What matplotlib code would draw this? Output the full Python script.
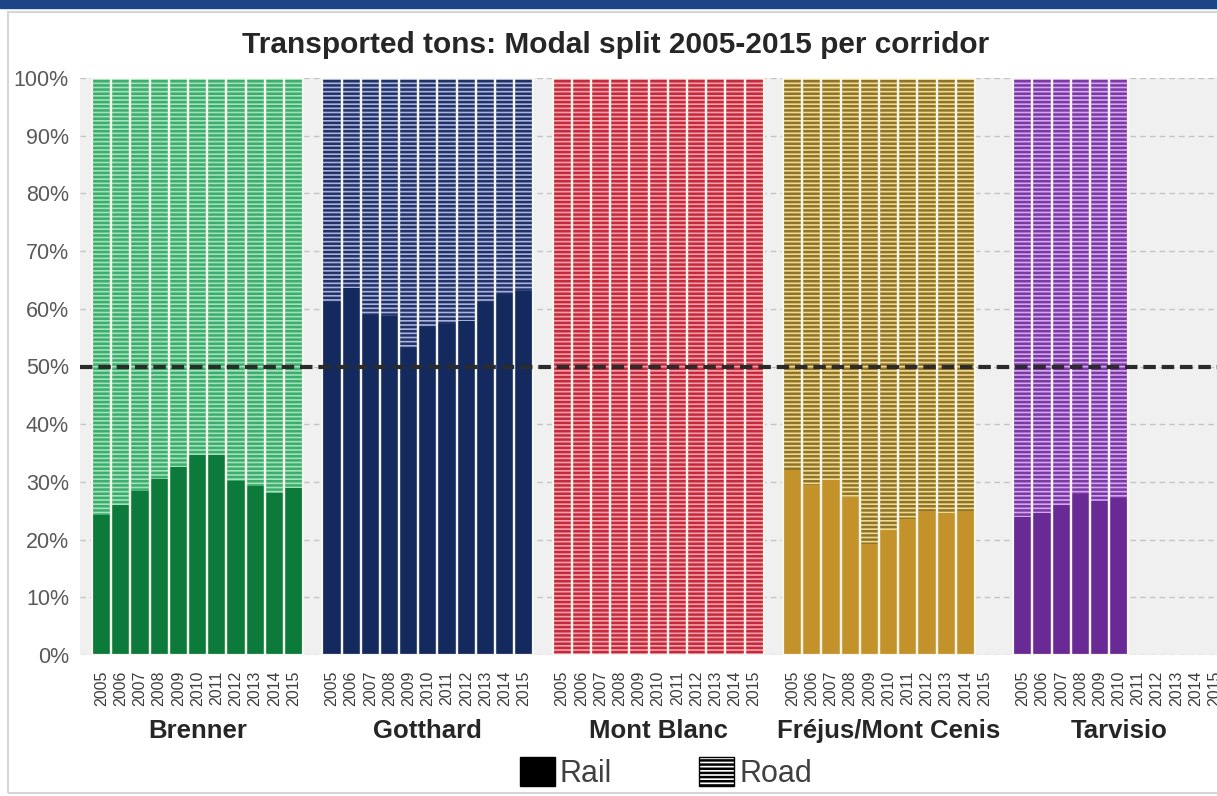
import numpy as np
import matplotlib
matplotlib.use('Agg')
import matplotlib.pyplot as plt
import matplotlib.transforms as mtransforms
from matplotlib.patches import Patch, Rectangle

# Rail share (%) of transported tons per corridor, 2005-2015 (None = no data)
years = list(range(2005, 2016))
corridors = ['Brenner', 'Gotthard', 'Mont Blanc', 'Fréjus/Mont Cenis', 'Tarvisio']

brenner_rail = [24.3, 26.0, 28.5, 30.5, 32.6, 34.7, 34.6, 30.2, 29.3, 28.1, 28.9]
gotthard_rail = [61.2, 63.6, 58.9, 58.8, 53.2, 56.9, 57.4, 57.8, 61.2, 62.6, 63.0]
mont_blanc_rail = [0, 0, 0, 0, 0, 0, 0, 0, 0, 0, 0]
frejus_rail = [32.1, 29.5, 30.3, 27.3, 19.2, 21.7, 23.5, 25.0, 24.6, 25.0, None]
tarvisio_rail = [23.9, 24.6, 26.0, 27.9, 26.7, 27.2, None, None, None, None, None]

rail_shares = [brenner_rail, gotthard_rail, mont_blanc_rail, frejus_rail, tarvisio_rail]

# colours: solid rail, road stripes, road background
rail_colors = ['#0b7a3a', '#14295e', '#c8283a', '#c4922a', '#6a2a96']
road_stripe_colors = ['#3aae6c', '#223266', '#c42a3c', '#8f7428', '#7a3aa4']
road_bg_colors = ['#a6e0bc', '#a9b4de', '#f4a0aa', '#f0da92', '#d6a6f0']

plt.rcParams['font.family'] = ['Liberation Sans', 'DejaVu Sans']
plt.rcParams['hatch.linewidth'] = 1.8

fig = plt.figure(figsize=(12.17, 7.96), dpi=100)

# blue band on top and the light frame around the chart
fig.patches.append(Rectangle((0, 1 - 8 / 796), 1, 8 / 796, transform=fig.transFigure,
                             color='#1d4484', zorder=0))
fig.patches.append(Rectangle((8 / 1217, 3 / 796), 1.2, 781 / 796, transform=fig.transFigure,
                             fill=False, edgecolor='#d6d6d6', lw=1.5, zorder=0))

ax = fig.add_axes([80 / 1217, 141 / 796, 1154 / 1217, 577 / 796])
ax.set_facecolor('#f0f0f0')

slots_per_group = 12
positions = []
labels = []
for g, rail in enumerate(rail_shares):
    for j, v in enumerate(rail):
        pos = g * slots_per_group + j
        positions.append(pos)
        labels.append(str(years[j]))
        if v is None:
            continue
        share = v / 100
        # rail part
        ax.bar(pos, share, width=1, color=rail_colors[g], linewidth=0, zorder=2)
        # road part, striped
        ax.bar(pos, 1 - share, bottom=share, width=1, facecolor=road_bg_colors[g],
               edgecolor=road_stripe_colors[g], hatch='----', linewidth=0, zorder=2)
        # thin light separators between columns
        ax.bar(pos, 1, width=1, fill=False, edgecolor='#f7f7ee', linewidth=1.6, zorder=3)

# 50% reference line
ax.axhline(0.5, color='#2b2b2b', lw=3, ls=(0, (3, 1.4)), zorder=4, clip_on=False)

ax.set_xlim(-1.125, 59)
ax.set_ylim(0, 1)
ax.set_yticks(np.arange(0, 1.01, 0.1))
ax.set_yticklabels([f'{i}%' for i in range(0, 101, 10)])
ax.set_xticks(positions)
ax.set_xticklabels(labels, rotation=90)
ax.tick_params(axis='y', length=0, labelsize=15.5, labelcolor='#595959', pad=8)
ax.tick_params(axis='x', length=0, labelsize=11.5, labelcolor='#3c3c3c', pad=11)
ax.yaxis.grid(True, color='#c4c4c4', ls=(0, (4, 3)), lw=1)
ax.set_axisbelow(True)
for s in ax.spines.values():
    s.set_visible(False)

# corridor names under the year labels
trans = mtransforms.blended_transform_factory(ax.transData, ax.transAxes)
for g, name in enumerate(corridors):
    ax.text(g * slots_per_group + 5, -0.131, name, transform=trans, ha='center', va='center',
            fontsize=18.5, fontweight='bold', color='#262626')

fig.text(616 / 1217, 1 - 45 / 796, 'Transported tons: Modal split 2005-2015 per corridor',
         ha='center', va='center', fontsize=21.5, fontweight='bold', color='#262626')

handles = [Patch(facecolor='black', edgecolor='black', label='Rail'),
           Patch(facecolor='white', edgecolor='black', hatch='----', label='Road')]
fig.legend(handles=handles, loc='center', bbox_to_anchor=(666 / 1217, 1 - 773 / 796), ncol=2,
           frameon=False, fontsize=22, handlelength=1.15, handleheight=1.05,
           columnspacing=2.85, handletextpad=0.16, labelcolor='#404040')

fig.savefig('out.png', dpi=100)
